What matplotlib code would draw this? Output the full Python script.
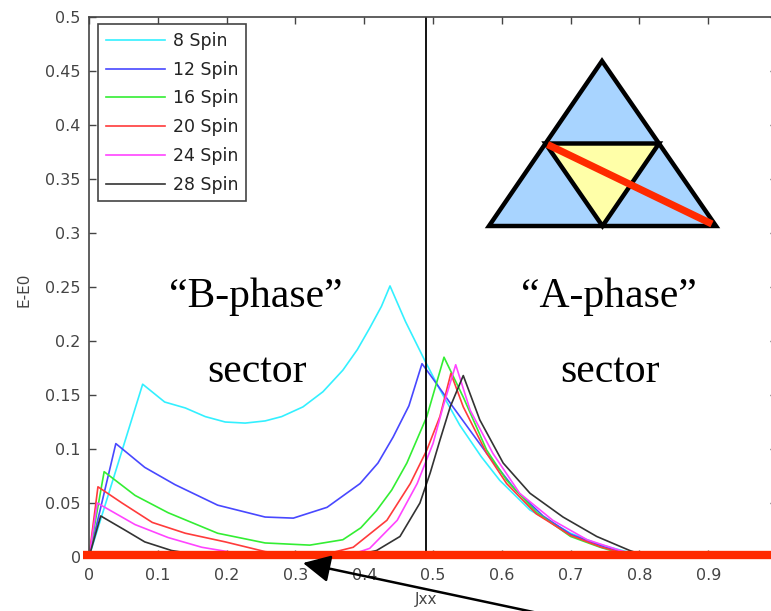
import matplotlib
matplotlib.use("Agg")
import matplotlib.pyplot as plt
from matplotlib.patches import Polygon

# series (Jxx, E-E0)
spin8_x = [0, 0.078, 0.11, 0.14, 0.169, 0.198, 0.227, 0.256, 0.28, 0.311, 0.34, 0.369, 0.39,
           0.408, 0.425, 0.4375, 0.46, 0.488, 0.51, 0.539, 0.57, 0.597, 0.641, 0.70, 0.74,
           0.772, 0.80, 0.82, 1.0]
spin8_y = [0, 0.160, 0.1435, 0.138, 0.130, 0.125, 0.124, 0.126, 0.130, 0.139, 0.153, 0.173, 0.192,
           0.212, 0.232, 0.251, 0.218, 0.182, 0.155, 0.122, 0.093, 0.071, 0.0435, 0.022, 0.012,
           0.0065, 0.002, 0, 0]

spin12_x = [0, 0.039, 0.081, 0.125, 0.187, 0.256, 0.297, 0.346, 0.394, 0.42, 0.442, 0.465,
            0.484, 0.50, 0.529, 0.578, 0.62, 0.66, 0.70, 0.75, 0.79, 0.81, 1.0]
spin12_y = [0, 0.105, 0.083, 0.067, 0.048, 0.037, 0.036, 0.046, 0.068, 0.087, 0.111, 0.140,
            0.179, 0.165, 0.139, 0.096, 0.062, 0.038, 0.021, 0.009, 0.002, 0, 0]

spin16_x = [0, 0.022, 0.067, 0.115, 0.187, 0.256, 0.321, 0.369, 0.395, 0.418, 0.44, 0.462,
            0.491, 0.516, 0.544, 0.578, 0.607, 0.651, 0.70, 0.743, 0.78, 0.80, 1.0]
spin16_y = [0, 0.079, 0.057, 0.041, 0.022, 0.013, 0.011, 0.016, 0.027, 0.043, 0.062, 0.087,
            0.130, 0.185, 0.148, 0.099, 0.071, 0.041, 0.019, 0.009, 0.002, 0, 0]

spin20_x = [0, 0.013, 0.048, 0.092, 0.14, 0.198, 0.256, 0.30, 0.34, 0.384, 0.433, 0.467,
            0.491, 0.51, 0.526, 0.544, 0.578, 0.607, 0.65, 0.70, 0.745, 0.78, 0.80, 1.0]
spin20_y = [0, 0.065, 0.050, 0.032, 0.022, 0.014, 0.005, 0.002, 0.002, 0.009, 0.034, 0.068,
            0.099, 0.130, 0.170, 0.139, 0.096, 0.068, 0.040, 0.020, 0.009, 0.003, 0, 0]

spin24_x = [0, 0.012, 0.023, 0.067, 0.115, 0.164, 0.22, 0.30, 0.38, 0.408, 0.448, 0.477,
            0.50, 0.515, 0.533, 0.554, 0.587, 0.626, 0.674, 0.724, 0.772, 0.80, 0.82, 1.0]
spin24_y = [0, 0.050, 0.046, 0.030, 0.018, 0.009, 0.003, 0.001, 0.002, 0.008, 0.034, 0.068,
            0.105, 0.140, 0.178, 0.136, 0.096, 0.059, 0.034, 0.016, 0.006, 0.001, 0, 0]

spin28_x = [0, 0.017, 0.052, 0.081, 0.12, 0.16, 0.30, 0.39, 0.418, 0.452, 0.481, 0.496,
            0.51, 0.525, 0.544, 0.568, 0.602, 0.641, 0.689, 0.738, 0.786, 0.81, 0.83, 1.0]
spin28_y = [0, 0.038, 0.025, 0.014, 0.006, 0.002, 0, 0.002, 0.006, 0.019, 0.050, 0.078,
            0.108, 0.139, 0.168, 0.127, 0.087, 0.059, 0.037, 0.019, 0.006, 0.001, 0, 0]

labels = ["8 Spin", "12 Spin", "16 Spin", "20 Spin", "24 Spin", "28 Spin"]
colors = ["#33f0ff", "#4848ff", "#33ee33", "#ff3b3b", "#ff44ff", "#333333"]

xticks = [0, 0.1, 0.2, 0.3, 0.4, 0.5, 0.6, 0.7, 0.8, 0.9, 1.0]
xtick_labels = ["0", "0.1", "0.2", "0.3", "0.4", "0.5", "0.6", "0.7", "0.8", "0.9", ""]
yticks = [0, 0.05, 0.1, 0.15, 0.2, 0.25, 0.3, 0.35, 0.4, 0.45, 0.5]
ytick_labels = ["0", "0.05", "0.1", "0.15", "0.2", "0.25", "0.3", "0.35", "0.4", "0.45", "0.5"]

boundary = 0.49
red = "#ff2a00"
gray = "#444444"

W, H = 771, 611
fig = plt.figure(figsize=(W / 100, H / 100), dpi=100)
ax = fig.add_axes([89 / W, 54 / H, 688 / W, 540 / H])

series = [(spin8_x, spin8_y), (spin12_x, spin12_y), (spin16_x, spin16_y),
          (spin20_x, spin20_y), (spin24_x, spin24_y), (spin28_x, spin28_y)]
for (xs, ys), lab, c in zip(series, labels, colors):
    ax.plot(xs, ys, color=c, lw=1.2, label=lab)

ax.axvline(boundary, color="black", lw=1.3)
ax.plot([-0.009, 1.0], [0.002, 0.002], color=red, lw=6, solid_capstyle="butt",
        clip_on=False, zorder=5)

ax.set_xlim(0, 1)
ax.set_ylim(0, 0.5)
ax.set_xticks(xticks)
ax.set_xticklabels(xtick_labels)
ax.set_yticks(yticks)
ax.set_yticklabels(ytick_labels)
ax.tick_params(direction="in", length=5, top=True, right=True, labelsize=11.5,
               colors=gray, width=1)
ax.tick_params(axis="x", pad=8)
ax.tick_params(axis="y", pad=6)
for s in ax.spines.values():
    s.set_color(gray)
    s.set_linewidth(1.2)

ax.set_xlabel("Jxx", fontsize=11, color=gray)
ax.xaxis.set_label_coords(0.49, -0.064)
ax.set_ylabel("E-E0", fontsize=11, color=gray)
ax.yaxis.set_label_coords(-0.084, 0.494)

leg = ax.legend(loc="upper left", bbox_to_anchor=(0.013, 0.987), borderaxespad=0,
                fontsize=12.5, handlelength=3.4, handletextpad=0.45, labelspacing=0.62,
                borderpad=0.45, fancybox=False, framealpha=1)
leg.get_frame().set_edgecolor(gray)
leg.get_frame().set_linewidth(1.2)
for t in leg.get_texts():
    t.set_color("#222222")

# overlay in pixel coordinates for the drawing and notes
ov = fig.add_axes([0, 0, 1, 1], zorder=10)
ov.set_xlim(0, W)
ov.set_ylim(H, 0)
ov.axis("off")
ov.patch.set_visible(False)

top, left, right = (602, 61), (489, 226), (716, 226)
ml = ((top[0] + left[0]) / 2, (top[1] + left[1]) / 2)
mr = ((top[0] + right[0]) / 2, (top[1] + right[1]) / 2)
mb = ((left[0] + right[0]) / 2, (left[1] + right[1]) / 2)
ov.add_patch(Polygon([top, left, right], closed=True, facecolor="#a8d4ff",
                     edgecolor="black", lw=3.2, joinstyle="miter"))
ov.add_patch(Polygon([ml, mr, mb], closed=True, facecolor="#ffffa8",
                     edgecolor="black", lw=3.2, joinstyle="miter"))
ov.plot([ml[0] + 2, 712], [ml[1] + 1, 224], color=red, lw=5.2, solid_capstyle="butt")

serif = "Liberation Serif"
ov.text(256, 307, "\u201cB-phase\u201d", fontsize=30, family=serif, ha="center", va="baseline")
ov.text(257, 382, "sector", fontsize=30, family=serif, ha="center", va="baseline")
ov.text(609, 307, "\u201cA-phase\u201d", fontsize=30, family=serif, ha="center", va="baseline")
ov.text(610, 382, "sector", fontsize=30, family=serif, ha="center", va="baseline")

ov.annotate("", xy=(303, 563), xytext=(552, 616),
            arrowprops=dict(arrowstyle="-|>,head_length=0.6,head_width=0.3",
                            color="black", lw=1.8, mutation_scale=28,
                            shrinkA=0, shrinkB=0))

fig.savefig("out.png", dpi=100)
